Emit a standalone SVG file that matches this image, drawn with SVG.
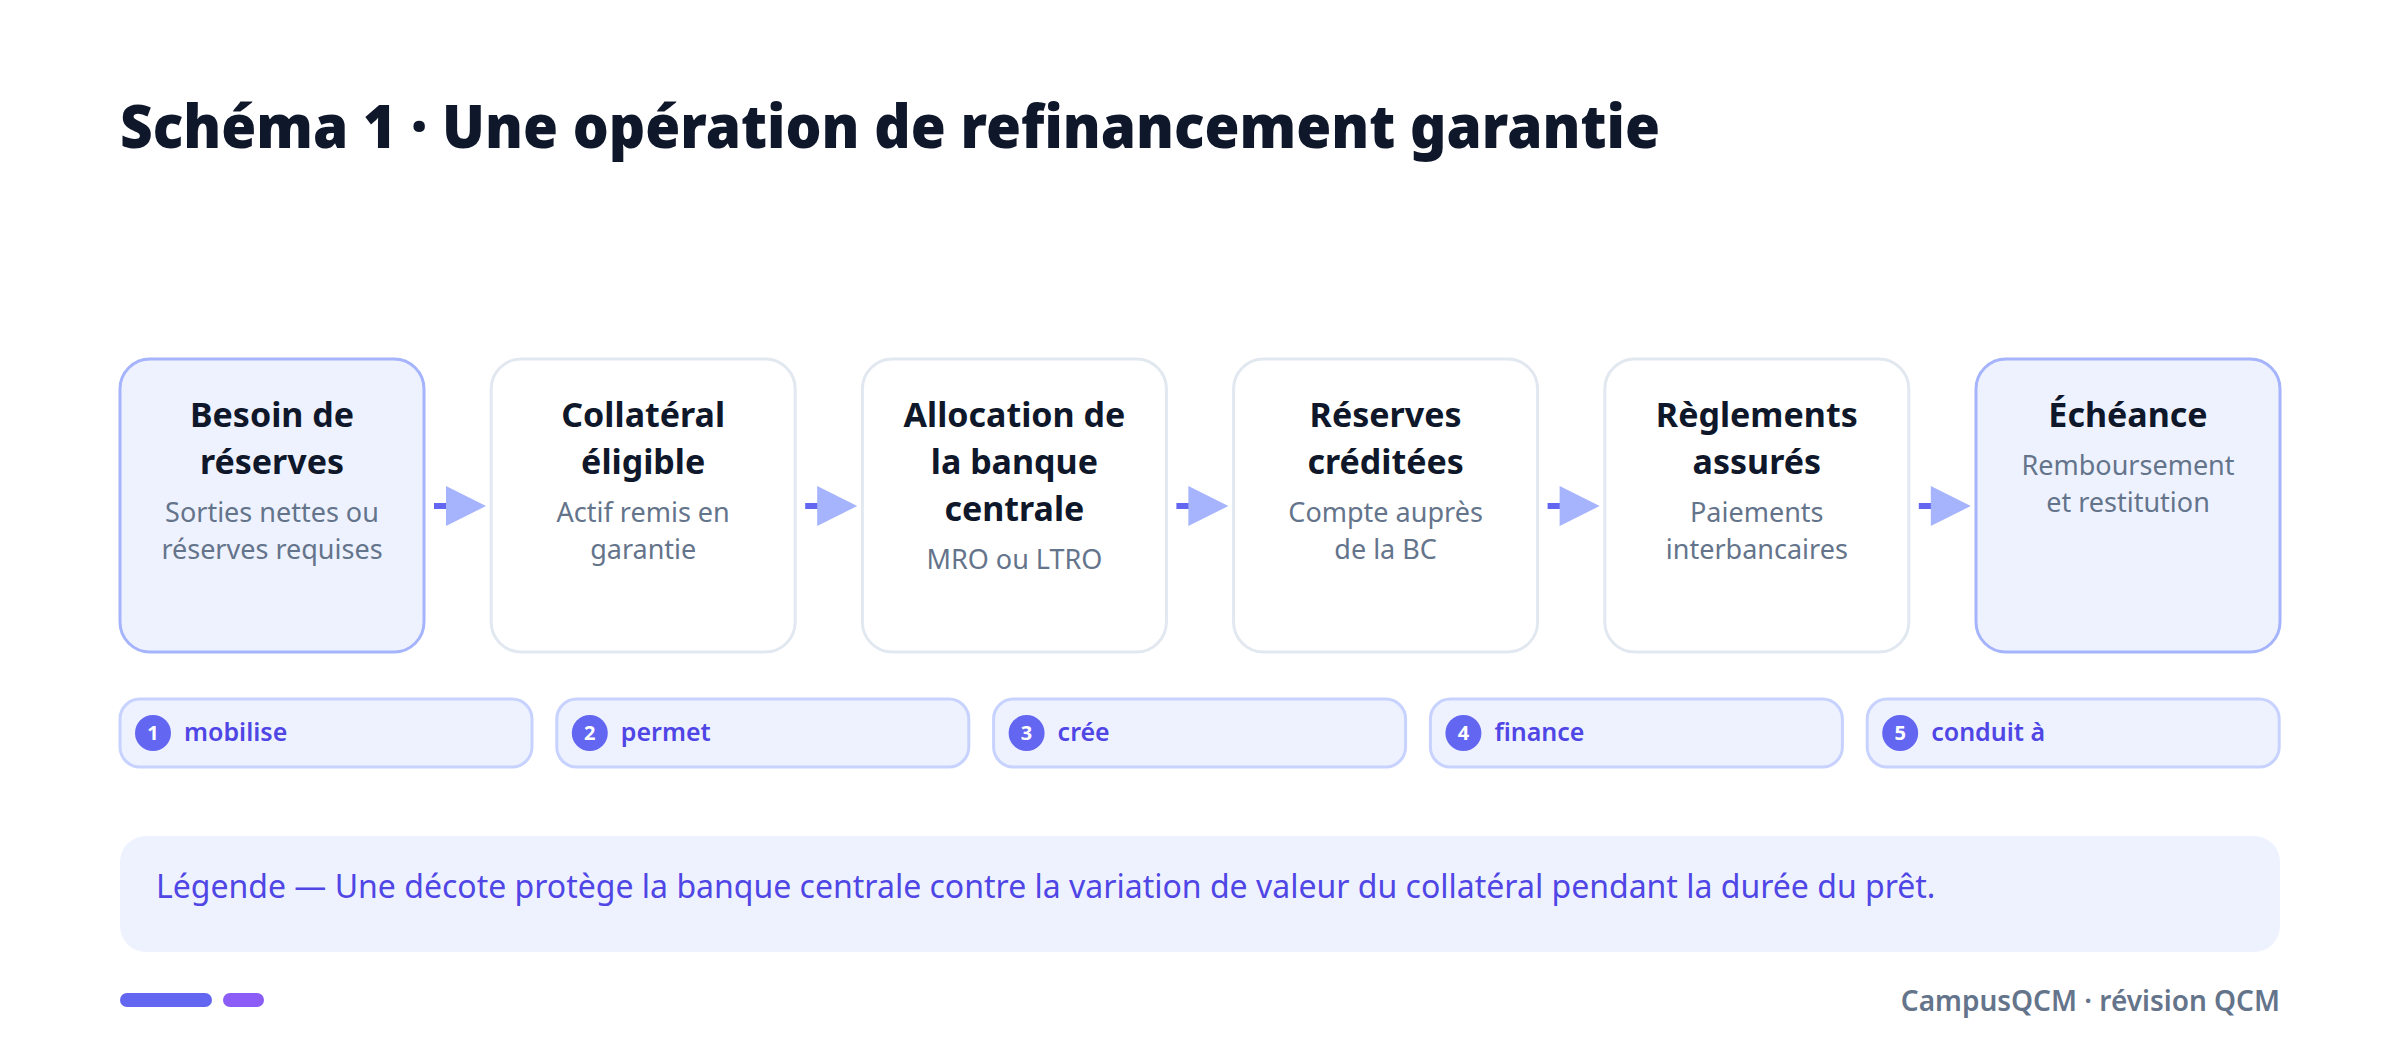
<svg xmlns="http://www.w3.org/2000/svg" width="2400" height="1061" viewBox="0 0 2400 1061">
<style>
text{font-family:"Noto Sans","Open Sans","Liberation Sans",sans-serif}
.title{font-size:61px;font-weight:900;fill:#0f172a}
.box{fill:#ffffff;stroke:#e2e8f0;stroke-width:3}
.box.hl{fill:#eef2ff;stroke:#a5b4fc}
.nt{font-size:34px;font-weight:700;fill:#0f172a;text-anchor:middle}
.ns{font-size:27px;font-weight:400;fill:#64748b;text-anchor:middle}
.dash{stroke:#6366f1;stroke-width:6}
.head{fill:#a5b4fc}
.pill{fill:#eef2ff;stroke:#c7d2fe;stroke-width:3}
.num{fill:#6366f1}
.numt{font-size:20px;font-weight:700;fill:#ffffff;text-anchor:middle}
.pl{font-size:25px;font-weight:600;fill:#4f46e5}
.leg{font-size:32px;fill:#4f46e5}
.foot{font-size:28px;font-weight:600;fill:#64748b;text-anchor:end}
</style>
<rect width="2400" height="1061" fill="#ffffff"/>
<text class="title" x="120" y="148" textLength="1540" lengthAdjust="spacingAndGlyphs">Schéma 1 · Une opération de refinancement garantie</text>

<g id="node1">
<rect class="box hl" x="120" y="359" width="304" height="293" rx="30"/>
<text class="nt" x="272" y="427">Besoin de</text>
<text class="nt" x="272" y="474">réserves</text>
<text class="ns" x="272" y="522">Sorties nettes ou</text>
<text class="ns" x="272" y="559">réserves requises</text>
</g>
<g id="node2">
<rect class="box" x="491.2" y="359" width="304" height="293" rx="30"/>
<text class="nt" x="643.2" y="427">Collatéral</text>
<text class="nt" x="643.2" y="474">éligible</text>
<text class="ns" x="643.2" y="522">Actif remis en</text>
<text class="ns" x="643.2" y="559">garantie</text>
</g>
<g id="node3">
<rect class="box" x="862.4" y="359" width="304" height="293" rx="30"/>
<text class="nt" x="1014.4" y="427">Allocation de</text>
<text class="nt" x="1014.4" y="474">la banque</text>
<text class="nt" x="1014.4" y="521">centrale</text>
<text class="ns" x="1014.4" y="569">MRO ou LTRO</text>
</g>
<g id="node4">
<rect class="box" x="1233.6" y="359" width="304" height="293" rx="30"/>
<text class="nt" x="1385.6" y="427">Réserves</text>
<text class="nt" x="1385.6" y="474">créditées</text>
<text class="ns" x="1385.6" y="522">Compte auprès</text>
<text class="ns" x="1385.6" y="559">de la BC</text>
</g>
<g id="node5">
<rect class="box" x="1604.8" y="359" width="304" height="293" rx="30"/>
<text class="nt" x="1756.8" y="427">Règlements</text>
<text class="nt" x="1756.8" y="474">assurés</text>
<text class="ns" x="1756.8" y="522">Paiements</text>
<text class="ns" x="1756.8" y="559">interbancaires</text>
</g>
<g id="node6">
<rect class="box hl" x="1976" y="359" width="304" height="293" rx="30"/>
<text class="nt" x="2128" y="427">Échéance</text>
<text class="ns" x="2128" y="475">Remboursement</text>
<text class="ns" x="2128" y="512">et restitution</text>
</g>

<g id="connectors">
<line class="dash" x1="434" y1="506" x2="450" y2="506"/>
<polygon class="head" points="446,486 486,506 446,526"/>
<line class="dash" x1="805.2" y1="506" x2="821.2" y2="506"/>
<polygon class="head" points="817.2,486 857.2,506 817.2,526"/>
<line class="dash" x1="1176.4" y1="506" x2="1192.4" y2="506"/>
<polygon class="head" points="1188.4,486 1228.4,506 1188.4,526"/>
<line class="dash" x1="1547.6" y1="506" x2="1563.6" y2="506"/>
<polygon class="head" points="1559.6,486 1599.6,506 1559.6,526"/>
<line class="dash" x1="1918.8" y1="506" x2="1934.8" y2="506"/>
<polygon class="head" points="1930.8,486 1970.8,506 1930.8,526"/>
</g>

<g id="step1">
<rect class="pill" x="120" y="699" width="412" height="68" rx="20"/>
<circle class="num" cx="153" cy="733" r="18"/>
<text class="numt" x="153" y="740">1</text>
<text class="pl" x="184" y="741">mobilise</text>
</g>
<g id="step2">
<rect class="pill" x="556.8" y="699" width="412" height="68" rx="20"/>
<circle class="num" cx="589.8" cy="733" r="18"/>
<text class="numt" x="589.8" y="740">2</text>
<text class="pl" x="620.8" y="741">permet</text>
</g>
<g id="step3">
<rect class="pill" x="993.6" y="699" width="412" height="68" rx="20"/>
<circle class="num" cx="1026.6" cy="733" r="18"/>
<text class="numt" x="1026.6" y="740">3</text>
<text class="pl" x="1057.6" y="741">crée</text>
</g>
<g id="step4">
<rect class="pill" x="1430.4" y="699" width="412" height="68" rx="20"/>
<circle class="num" cx="1463.4" cy="733" r="18"/>
<text class="numt" x="1463.4" y="740">4</text>
<text class="pl" x="1494.4" y="741">finance</text>
</g>
<g id="step5">
<rect class="pill" x="1867.2" y="699" width="412" height="68" rx="20"/>
<circle class="num" cx="1900.2" cy="733" r="18"/>
<text class="numt" x="1900.2" y="740">5</text>
<text class="pl" x="1931.2" y="741">conduit à</text>
</g>

<g id="legend">
<rect x="120" y="836" width="2160" height="116" rx="26" fill="#eef2ff"/>
<text class="leg" x="156" y="898">Légende — Une décote protège la banque centrale contre la variation de valeur du collatéral pendant la durée du prêt.</text>
</g>

<g id="footer">
<rect x="120" y="993" width="92" height="14" rx="7" fill="#6366f1"/>
<rect x="223" y="993" width="41" height="14" rx="7" fill="#8b5cf6"/>
<text class="foot" x="2280" y="1011">CampusQCM · révision QCM</text>
</g>
</svg>
